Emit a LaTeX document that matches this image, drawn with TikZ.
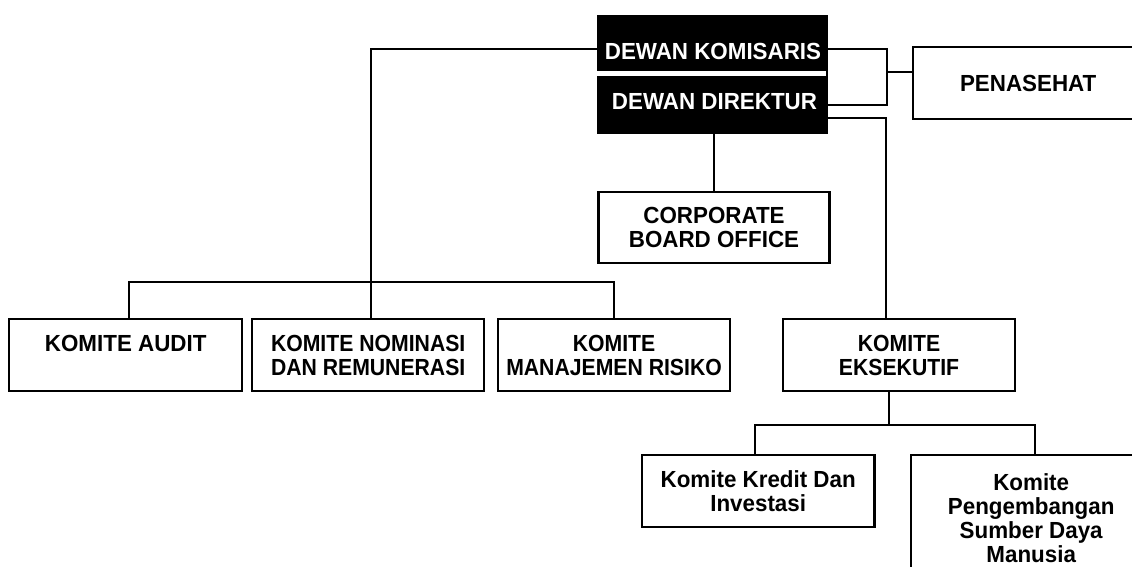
\documentclass[tikz,border=0pt]{standalone}
\usepackage{fontspec}
\setmainfont{Liberation Sans}[FakeStretch=0.96]
\newfontfamily\narrowfont{Liberation Sans}[FakeStretch=0.91]
\begin{document}
\begin{tikzpicture}[x=1pt,y=-1pt,
  txt/.style={font=\fontsize{23.3}{24}\selectfont\bfseries, align=center, inner sep=0pt},
  narrowtxt/.style={font=\narrowfont\fontsize{23.3}{24}\selectfont\bfseries},
  box/.style={txt, draw, line width=2.4pt, anchor=north west},
  conn/.style={line width=2pt},
]
\useasboundingbox (0,0) rectangle (1132,567);
\clip (0,0) rectangle (1132,567);

% top black block
\node[fill=black, anchor=north west, minimum width=231pt, minimum height=119pt, inner sep=0pt] (dewan) at (597,15) {};
\fill[white] (597,71) rectangle (826,76.5);
\node[txt, text=white] (komisaris) at (713,51.7) {DEWAN KOMISARIS};
\node[txt, text=white] (direktur) at (714.5,101.7) {DEWAN DIREKTUR};

% boxes
\node[box, minimum width=230pt, minimum height=72pt] (penasehat) at (912,46) {PENASEHAT};
\node[box, minimum width=231pt, minimum height=71pt] (corp) at (597.3,190.7) {CORPORATE\\BOARD OFFICE};
\node[box, minimum width=233pt, minimum height=72pt] (audit) at (8,318) {KOMITE AUDIT\\\mbox{}};
\node[box, narrowtxt, minimum width=232pt, minimum height=72pt] (nominasi) at (251,318) {KOMITE NOMINASI\\DAN REMUNERASI};
\node[box, narrowtxt, minimum width=232.3pt, minimum height=72pt] (manajemen) at (496.7,318) {KOMITE\\MANAJEMEN RISIKO};
\node[box, narrowtxt, minimum width=232.3pt, minimum height=72pt] (eksekutif) at (781.7,318) {KOMITE\\EKSEKUTIF};
\node[box, minimum width=232.6pt, minimum height=71.7pt] (kredit) at (640.7,454) {Komite Kredit Dan\\Investasi};
\node[box, minimum width=240pt, minimum height=126pt] (pengembangan) at (910,454) {Komite\\Pengembangan\\Sumber Daya\\Manusia};

% connectors
\coordinate (jl) at (371,49);
\draw[conn] (dewan.west |- jl) -- (jl) -- (jl |- nominasi.north);
\coordinate (ba) at (129,281.7);
\coordinate (bm) at (614,281.7);
\draw[conn] (ba |- audit.north) -- (ba) -- (bm) -- (bm |- manajemen.north);
\draw[conn] (dewan.south -| corp.north) -- (corp.north);

\coordinate (k1) at (886.7,49);
\coordinate (k2) at (886.7,105);
\coordinate (jr) at (886.7,72);
\draw[conn] (dewan.east |- k1) -- (k1) -- (k2) -- (dewan.east |- k2);
\draw[conn] (jr) -- (jr -| penasehat.west);
\coordinate (k3) at (886,118.3);
\draw[conn] (dewan.east |- k3) -- (k3) -- (k3 |- eksekutif.north);
\coordinate (ek) at (889.3,425);
\draw[conn] (eksekutif.south -| ek) -- (ek);
\coordinate (b1) at (755,425);
\coordinate (b2) at (1035,425);
\draw[conn] (b1 |- kredit.north) -- (b1) -- (b2) -- (b2 |- pengembangan.north);
\end{tikzpicture}
\end{document}
